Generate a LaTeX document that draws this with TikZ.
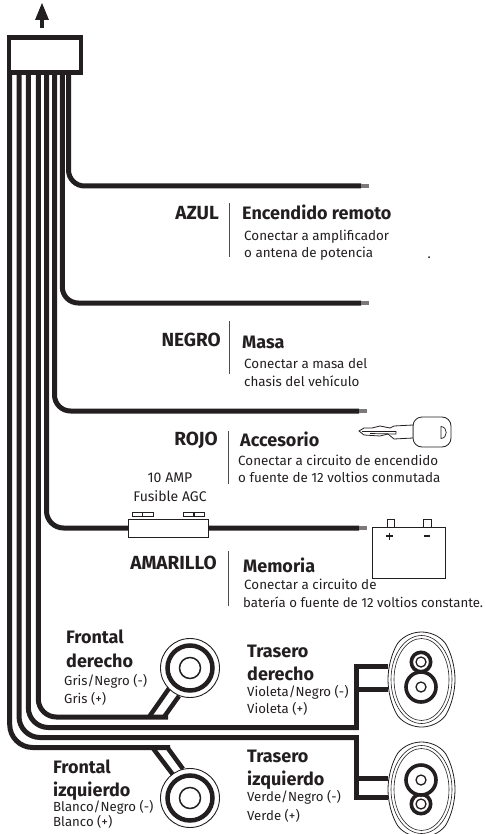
\documentclass[tikz,border=0pt]{standalone}
\usetikzlibrary{calc}
\usepackage{fontspec}
\setmainfont{Fira Sans}
\definecolor{ink}{HTML}{231F20}
\tikzset{
  wire/.style={line width=5pt,line cap=butt,ink},
  sub wire/.style={line width=5pt,ink,line join=miter,line cap=butt},
  fwire/.style={line width=4.5pt,ink,line cap=butt},
  wtag/.style={font=\fontsize{19}{19}\selectfont\bfseries,anchor=base east,yshift=-6.5pt,inner sep=0pt,text=ink},
  headtxt/.style={font=\fontsize{18}{18}\selectfont\bfseries,anchor=base west,yshift=-6.2pt,inner sep=0pt,text=ink},
  desc/.style={font=\fontsize{13.4}{15}\selectfont,anchor=base west,yshift=-4.6pt,inner sep=0pt,text=ink},
  fusetxt/.style={font=\fontsize{14}{15}\selectfont,anchor=base,yshift=-4.8pt,inner sep=0pt,text=ink},
  sepline/.style={line width=1pt,ink!80},
  spk/.style={font=\fontsize{18}{18}\selectfont\bfseries,anchor=base west,yshift=-6.2pt,inner sep=0pt,text=ink},
  spkd/.style={font=\fontsize{13.2}{15}\selectfont,anchor=base west,yshift=-4.5pt,inner sep=0pt,text=ink},
  outline/.style={line width=.8pt,ink},
  wiretip/.style={fill=ink!60,draw=none},
  frontspk/.pic={
    \draw[line width=.9pt,ink,fill=white] (0,0) circle (29.5);
    \draw[line width=4.5pt,ink,fill=white] (0,0) circle (22.5);
    \draw[line width=1.5pt,ink,fill=white] (0,0) circle (10.5);
  },
  rearshell/.pic={
    \draw[outline,fill=white] (0,-47.5) .. controls (8,-47.5) and (18,-44) .. (24,-36)
      .. controls (30,-26) and (33.5,-12) .. (33.5,0)
      .. controls (33.5,12) and (30,26) .. (24,36)
      .. controls (18,44) and (8,47.5) .. (0,47.5)
      .. controls (-8,47.5) and (-18,44) .. (-24,36)
      .. controls (-30,26) and (-33.5,12) .. (-33.5,0)
      .. controls (-33.5,-12) and (-30,-26) .. (-24,-36)
      .. controls (-18,-44) and (-8,-47.5) .. (0,-47.5) -- cycle;
    \draw[line width=.6pt,ink] (0,0) ellipse (30.5 and 44);
    \draw[line width=.6pt,ink] (0,0) ellipse (27.5 and 41);
  },
  cone/.pic={
    \draw[line width=3.6pt,ink,fill=white] (0,0) circle (#1);
    \draw[line width=1.3pt,ink,fill=white] (0,0) circle (5);
  },
}
\begin{document}
\begin{tikzpicture}[x=1pt,y=-1pt]
\useasboundingbox (0,0) rectangle (486,834);
% wire starts under the connector
\foreach \n/\x in {a/9.7,b/19,c/28.3,d/38.3,e/46.5,f/54.5,g/62.3,h/68.5}
  \coordinate (top\n) at (\x,70);
% wire ends
\coordinate (endh) at (361,186);
\coordinate (endg) at (361,303);
\coordinate (endf) at (359,411);
\coordinate (ende) at (359,528);
\coordinate (endd) at (168,717);
\coordinate (endc) at (358.5,727.5);
\coordinate (endb) at (358.5,737.5);
\coordinate (enda) at (170,747.5);
% rear-speaker wires
\coordinate (rr1) at (388,666);
\coordinate (rr2) at (388,689);
\coordinate (rl1) at (388,778);
\coordinate (rl2) at (388,797.5);
% front-speaker wires
\draw[fwire] (149,717) -- (170,687);
\draw[fwire] (164,717) -- (179,696);
\draw[fwire] (152,747) -- (174,776);
\draw[fwire] (167,747) -- (183,769);
% main loom
\draw[wire,rounded corners=23pt] (topa) |- (enda);
\draw[wire,rounded corners=21pt] (topb) |- (endb);
\draw[wire,rounded corners=20pt] (topc) |- (endc);
\draw[wire,rounded corners=18pt] (topd) |- (endd);
\draw[wire,rounded corners=17pt] (tope) |- (ende);
\draw[wire,rounded corners=16pt] (topf) |- (endf);
\draw[wire,rounded corners=16pt] (topg) |- (endg);
\draw[wire,rounded corners=16pt] (toph) |- (endh);
% rear branches
\coordinate (rrv) at (356,727.5);
\coordinate (rlv) at (356,737.5);
\draw[sub wire] (rr2) -- (356,689);
\draw[sub wire] (rr1) -| ($(rrv)+(0,2.5)$);
\draw[sub wire] (rl1) -- (356,778);
\draw[sub wire] (rl2) -| ($(rlv)+(0,-2.5)$);
% wire tips
\foreach \n in {h,g,f,e}
  \fill[wiretip] ($(end\n)+(0,-1.7)$) rectangle ($(end\n)+(8,1.7)$);
% connector
\node[draw=ink,line width=4.4pt,fill=white,minimum width=72pt,minimum height=35pt,inner sep=0pt,anchor=north west] (conn) at (7,35.2) {};
\coordinate (arrowtip) at (42,3);
\coordinate (arrowbase) at (42,28);
\draw[line width=4.6pt,ink] (arrowbase) -- (42,18);
\fill[ink] (arrowtip) -- (49,20) -- (35,20) -- cycle;
% labels of the plain wires
\node[wtag] (t1) at (219,213) {AZUL};
\draw[sepline] (229,203) -- (229,257);
\node[headtxt] (h1) at (242,213) {Encendido remoto};
\node[desc] (d1a) at (244,236) {Conectar a amplificador};
\node[desc] (d1b) at (244,253) {o antena de potencia};
\node[desc] (dot) at (427.5,254) {.};
\node[wtag] (t2) at (221,340) {NEGRO};
\draw[sepline] (229,321) -- (229,374);
\node[headtxt] (h2) at (242,342) {Masa};
\node[desc] (d2a) at (244,364) {Conectar a masa del};
\node[desc] (d2b) at (244,382) {chasis del vehículo};
\node[wtag] (t3) at (218,439) {ROJO};
\draw[sepline] (228,431) -- (228,484);
\node[headtxt] (h3) at (240,440) {Accesorio};
\node[desc] (d3a) at (238,461) {Conectar a circuito de encendido};
\node[desc] (d3b) at (238,478) {o fuente de 12 voltios conmutada};
\node[fusetxt] (f1) at (170,478) {10 AMP};
\node[fusetxt] (f2) at (170,497) {Fusible AGC};
\node[wtag] (t4) at (217,563) {AMARILLO};
\draw[sepline] (228,551) -- (228,606);
\node[headtxt] (h4) at (243,566) {Memoria};
\node[desc] (d4a) at (244,585) {Conectar a circuito de};
\node[desc,font=\fontsize{13.2}{15}\selectfont] (d4b) at (243,603) {batería o fuente de 12 voltios constante.};
% fuse
\draw[outline,fill=white] (128,519) rectangle (208,537);
\foreach \x in {132,142.5,183,194}
  \draw[line width=.7pt,ink,fill=white] (\x,512) rectangle (\x+10.5,516);
% key
\draw[outline,fill=white,rounded corners=9pt] (413,417) rectangle (451,447);
\draw[line width=.7pt,ink] (441,426.5) .. controls (448,427) and (448,438) .. (441,438.5) -- cycle;
\draw[outline,fill=white] (413,425) -- (394,426) -- (390,428) -- (380,426) -- (372,428) -- (364,428) -- (359,431) -- (364,435) -- (380,436) -- (388,434) -- (394,439) -- (413,438) -- cycle;
\draw[line width=.7pt,ink] (362,431.5) -- (396,431.5) -- (396,434) -- (370,433.5);
% battery
\draw[outline,fill=white] (372,527) rectangle (445,578);
\draw[line width=.7pt,ink,fill=white] (387,519) rectangle (394,527);
\draw[line width=.7pt,ink,fill=white] (423,519) rectangle (431,527);
\draw[line width=1.3pt,ink] (385.5,536) -- (393,536) (389.2,532.5) -- (389.2,539.5);
\draw[line width=1.3pt,ink] (424,536) -- (430,536);
% speakers
\pic at (190,668) {frontspk};
\pic at (190,798) {frontspk};
\pic at (421.5,679.5) {rearshell};
\pic at (421,662) {cone=9.7};
\pic at (421,687) {cone=15};
\pic at (421.5,789.5) {rearshell};
\pic at (421,804) {cone=9.7};
\pic at (421,780) {cone=15};
% speaker labels
\node[spk] (s1) at (66,637) {Frontal};
\node[spk] (s1b) at (66,661) {derecho};
\node[spkd] (s1c) at (64,681) {Gris/Negro (-)};
\node[spkd] (s1d) at (64,699) {Gris (+)};
\node[spk] (s2) at (53,767) {Frontal};
\node[spk] (s2b) at (53,790) {izquierdo};
\node[spkd] (s2c) at (53,807) {Blanco/Negro (-)};
\node[spkd] (s2d) at (53,822) {Blanco (+)};
\node[spk] (s3) at (247,651) {Trasero};
\node[spk] (s3b) at (247,674) {derecho};
\node[spkd] (s3c) at (247,692) {Violeta/Negro (-)};
\node[spkd] (s3d) at (247,709) {Violeta (+)};
\node[spk] (s4) at (247,756) {Trasero};
\node[spk] (s4b) at (247,779) {izquierdo};
\node[spkd] (s4c) at (247,797) {Verde/Negro (-)};
\node[spkd] (s4d) at (247,816) {Verde (+)};
\end{tikzpicture}
\end{document}
